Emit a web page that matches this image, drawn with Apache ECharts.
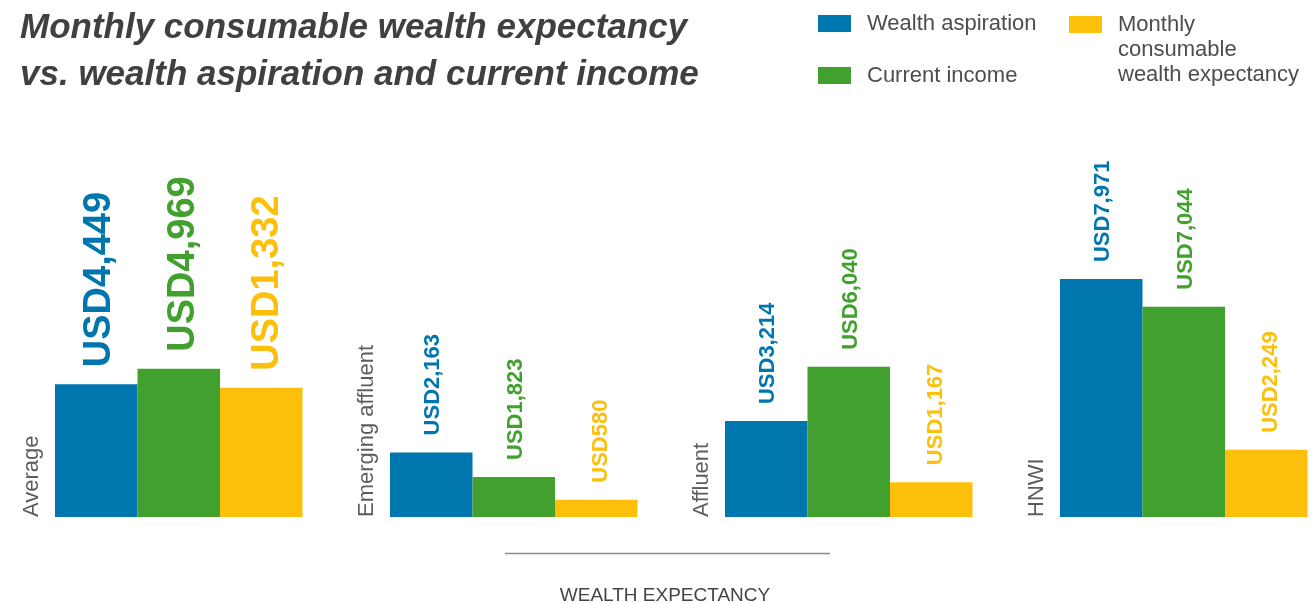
<!DOCTYPE html>
<html>
<head>
<meta charset="utf-8">
<script src="https://cdn.jsdelivr.net/npm/echarts@6/dist/echarts.min.js"></script>
<style>
html,body{margin:0;padding:0;background:#fff;}
#chart{width:1313px;height:603px;}
</style>
</head>
<body>
<div id="chart"></div>
<script>
// ---- data ----
const categories = ['Average', 'Emerging affluent', 'Affluent', 'HNWI'];
const seriesNames = ['Wealth aspiration', 'Current income', 'Monthly consumable wealth expectancy'];
// printed values (USD per month)
const aspiration = [4449, 2163, 3214, 7971];
const income = [4969, 1823, 6040, 7044];
const expectancy = [1332, 580, 1167, 2249];
// bar heights as drawn in the reference (a few bars are not drawn to scale there)
const aspirationDrawn = [4449, 2163, 3214, 7971];
const incomeDrawn = [4969, 1340, 5030, 7044];
const expectancyDrawn = [4330, 580, 1167, 2249];
const colors = ['#0076AE', '#41A02E', '#FCC00A'];

const FONT = '"Liberation Sans", Arial, Helvetica, sans-serif';

function usd(v) { return 'USD' + v.toLocaleString('en-US'); }

function barSeries(name, drawn, printed, color, shift, bigShift) {
  return {
    name: name,
    type: 'bar',
    barWidth: 82.5,
    barGap: '0%',
    clip: false,
    itemStyle: { color: color },
    label: {
      show: true,
      position: 'top',
      distance: 17,
      rotate: 90,
      align: 'left',
      verticalAlign: 'middle',
      offset: [0, shift],
      fontFamily: FONT,
      fontWeight: 'bold',
      fontSize: 22,
      color: color,
      formatter: function (p) { return usd(printed[p.dataIndex]); }
    },
    data: drawn.map(function (v, i) {
      return i === 0 ? { value: v, label: { fontSize: 38, offset: [0, bigShift] } } : v;
    })
  };
}

const chart = echarts.init(document.getElementById('chart'), null, { renderer: 'canvas' });
chart.setOption({
  animation: false,
  backgroundColor: '#ffffff',
  title: {
    text: 'Monthly consumable wealth expectancy\nvs. wealth aspiration and current income',
    left: 20,
    top: 5,
    padding: 0,
    textStyle: {
      fontFamily: FONT,
      fontStyle: 'italic',
      fontWeight: 'bold',
      fontSize: 35,
      lineHeight: 47,
      color: '#404040'
    }
  },
  legend: [
    {
      data: [seriesNames[0], seriesNames[1]],
      orient: 'vertical',
      left: 818,
      top: 12.5,
      padding: 0,
      itemWidth: 33,
      itemHeight: 17,
      itemGap: 30,
      icon: 'rect',
      selectedMode: false,
      textStyle: { fontFamily: FONT, fontSize: 22, lineHeight: 22, color: '#4d4d4d', padding: [0, 0, 0, 11] }
    },
    {
      data: [seriesNames[2]],
      orient: 'vertical',
      left: 1069,
      top: -38,
      padding: 0,
      itemWidth: 33,
      itemHeight: 17,
      icon: 'rect',
      selectedMode: false,
      formatter: function () { return '\n\nMonthly\nconsumable\nwealth expectancy'; },
      textStyle: { fontFamily: FONT, fontSize: 22, lineHeight: 25, color: '#4d4d4d', padding: [0, 0, 0, 11] }
    }
  ],
  grid: { left: 178.75, top: 217, width: 1005, height: 300, containLabel: false },
  xAxis: {
    type: 'category',
    data: categories,
    boundaryGap: false,
    axisLine: { show: false },
    axisTick: { show: false },
    axisLabel: { show: false },
    splitLine: { show: false }
  },
  yAxis: {
    type: 'value',
    min: 0,
    max: 10050,
    show: false
  },
  graphic: [
    {
      type: 'line',
      shape: { x1: 505, y1: 553.5, x2: 830, y2: 553.5 },
      style: { stroke: '#8a8a8a', lineWidth: 1.5 },
      silent: true
    },
    {
      type: 'text',
      x: 665,
      y: 596,
      style: {
        text: 'WEALTH EXPECTANCY',
        fontFamily: FONT,
        fontSize: 19,
        fill: '#444444',
        align: 'center',
        verticalAlign: 'middle'
      },
      silent: true
    }
  ],
  series: [
    barSeries(seriesNames[0], aspirationDrawn, aspiration, colors[0], 2, 3),
    barSeries(seriesNames[1], incomeDrawn, income, colors[1], 2, 5),
    barSeries(seriesNames[2], expectancyDrawn, expectancy, colors[2], 5, 6),
    {
      name: 'category labels',
      type: 'scatter',
      symbolSize: 1,
      clip: false,
      itemStyle: { color: 'rgba(0,0,0,0)' },
      silent: true,
      label: {
        show: true,
        position: 'inside',
        offset: [0, -146.5],
        rotate: 90,
        align: 'left',
        verticalAlign: 'middle',
        fontFamily: FONT,
        fontSize: 22,
        color: '#333333',
        formatter: function (p) { return categories[p.dataIndex]; }
      },
      data: categories.map(function () { return 0; })
    }
  ]
});
</script>
</body>
</html>
